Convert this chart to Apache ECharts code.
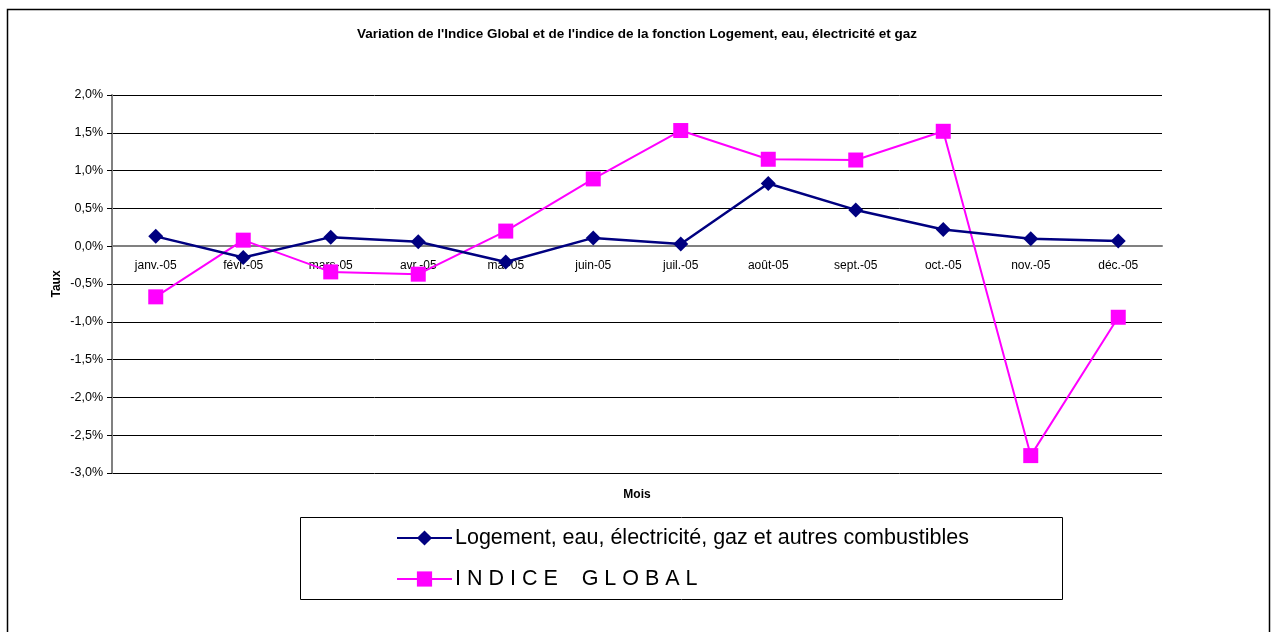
<!DOCTYPE html>
<html>
<head>
<meta charset="utf-8">
<script src="https://cdn.jsdelivr.net/npm/echarts@6/dist/echarts.min.js"></script>
<style>
html,body{margin:0;padding:0;background:#fff;}
#chart{width:1274px;height:632px;}
</style>
</head>
<body>
<div id="chart"></div>
<script>
var months = ['janv.-05','févr.-05','mars-05','avr.-05','mai-05','juin-05','juil.-05','août-05','sept.-05','oct.-05','nov.-05','déc.-05'];
var logement = [0.13, -0.15, 0.12, 0.06, -0.21, 0.11, 0.03, 0.83, 0.48, 0.22, 0.10, 0.07];
var indiceGlobal = [-0.67, 0.08, -0.34, -0.37, 0.20, 0.89, 1.53, 1.15, 1.14, 1.52, -2.77, -0.94];
var seriesNames = ['Logement, eau, électricité, gaz et autres combustibles', 'I N D I C E    G L O B A L'];

var chart = echarts.init(document.getElementById('chart'));
var font = 'Liberation Sans, Arial, sans-serif';
chart.setOption({
  animation: false,
  textStyle: {fontFamily: font},
  title: {
    text: "Variation de l'Indice Global et de l'indice de la fonction Logement, eau, électricité et gaz",
    left: 'center', top: 22,
    textStyle: {fontSize: 13.5, fontWeight: 'bold', color: '#000', fontFamily: font}
  },
  graphic: [
    {type: 'rect', shape: {x: 7.5, y: 9.5, width: 1262, height: 640}, style: {fill: 'none', stroke: '#000', lineWidth: 1.5}, silent: true},
    {type: 'rect', shape: {x: 300.5, y: 517.5, width: 762, height: 82}, style: {fill: 'none', stroke: '#000', lineWidth: 1}, silent: true}
  ],
  legend: {
    orient: 'vertical',
    left: 391, top: 521,
    itemWidth: 55, itemHeight: 19,
    itemGap: 17,
    textStyle: {fontSize: 21.5, lineHeight: 24, color: '#000', fontFamily: font, padding: [0,0,0,-2]},
    data: seriesNames
  },
  grid: {left: 112, right: 112, top: 95, bottom: 159, containLabel: false, outerBoundsMode: 'none'},
  xAxis: {
    type: 'category',
    data: months,
    boundaryGap: true,
    offset: -226.8,
    name: 'Mois', nameLocation: 'middle', nameGap: 242,
    nameTextStyle: {fontSize: 12, fontWeight: 'bold', color: '#000'},
    axisLine: {onZero: false, lineStyle: {color: '#808080', width: 2}},
    axisTick: {show: false},
    axisLabel: {fontSize: 12, color: '#000', margin: 13, interval: 0}
  },
  yAxis: {
    type: 'value',
    min: -3, max: 2, interval: 0.5,
    name: 'Taux', nameLocation: 'middle', nameGap: 49, nameRotate: 90,
    nameMoveOverlap: false,
    nameTextStyle: {fontSize: 12, fontWeight: 'bold', color: '#000'},
    axisLine: {show: true, lineStyle: {color: '#808080', width: 2}},
    axisTick: {show: true, length: 5, lineStyle: {color: '#000'}},
    axisLabel: {fontSize: 12.5, color: '#000', margin: 9, formatter: function(v){ return v.toFixed(1).replace('.', ',') + '%'; }},
    splitLine: {show: true, lineStyle: {color: '#000', width: 1}}
  },
  series: [
    {
      name: seriesNames[0], type: 'line', data: logement,
      symbol: 'diamond', symbolSize: 15,
      lineStyle: {color: '#000080', width: 2.5},
      itemStyle: {color: '#000080'},
      z: 3
    },
    {
      name: seriesNames[1], type: 'line', data: indiceGlobal,
      symbol: 'rect', symbolSize: 15,
      lineStyle: {color: '#FF00FF', width: 2},
      itemStyle: {color: '#FF00FF'},
      z: 2
    }
  ]
});
</script>
</body>
</html>
